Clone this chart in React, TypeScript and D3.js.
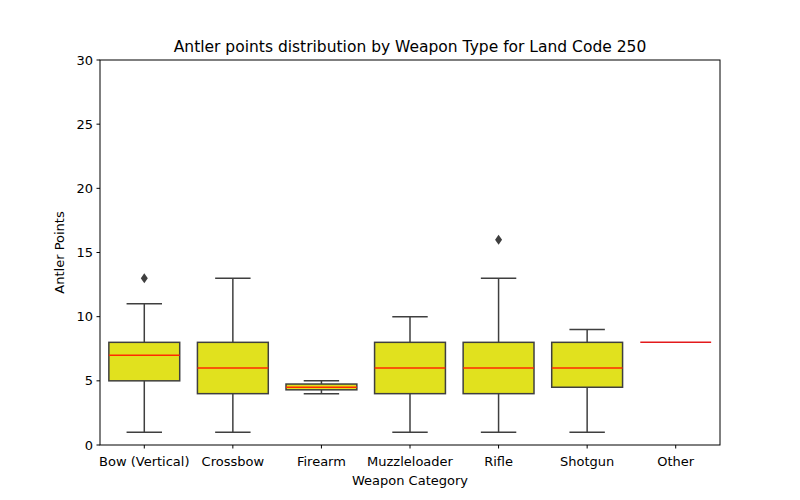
import React from "react";
import * as d3 from "d3";

const categories = ["Bow (Vertical)", "Crossbow", "Firearm", "Muzzleloader", "Rifle", "Shotgun", "Other"];
const whiskLow = [1, 1, 4, 1, 1, 1, 8];
const q1 = [5, 4, 4.3, 4, 4, 4.5, 8];
const medians = [7, 6, 4.5, 6, 6, 6, 8];
const q3 = [8, 8, 4.75, 8, 8, 8, 8];
const whiskHigh = [11, 13, 5, 10, 13, 9, 8];
const outliers: number[][] = [[13], [], [], [], [16], [], []];
const yTicks = [0, 5, 10, 15, 20, 25, 30];

export default function App() {
  const L = 100, R = 720, T = 60, B = 445;
  const x = d3.scaleBand<string>().domain(categories).range([L, R]);
  const y = d3.scaleLinear().domain([0, 30]).range([B, T]);
  const bw = x.bandwidth() * 0.8;
  const edge = "#3f3f3f";
  const font = "DejaVu Sans, sans-serif";
  return (
    <svg width={800} height={500} style={{ position: "absolute", left: 0, top: 0 }} fontFamily={font}>
      <rect width={800} height={500} fill="white" />
      {categories.map((c, i) => {
        const cx = x(c)! + x.bandwidth() / 2;
        if (q1[i] === q3[i] && whiskLow[i] === whiskHigh[i]) {
          return <line key={c} x1={cx - bw / 2} x2={cx + bw / 2} y1={y(medians[i])} y2={y(medians[i])} stroke="#e31a1c" strokeWidth={1.5} />;
        }
        return (
          <g key={c}>
            <line x1={cx} x2={cx} y1={y(whiskLow[i])} y2={y(q1[i])} stroke={edge} strokeWidth={1.5} />
            <line x1={cx} x2={cx} y1={y(whiskHigh[i])} y2={y(q3[i])} stroke={edge} strokeWidth={1.5} />
            <line x1={cx - bw / 4} x2={cx + bw / 4} y1={y(whiskLow[i])} y2={y(whiskLow[i])} stroke={edge} strokeWidth={1.5} />
            <line x1={cx - bw / 4} x2={cx + bw / 4} y1={y(whiskHigh[i])} y2={y(whiskHigh[i])} stroke={edge} strokeWidth={1.5} />
            <rect x={cx - bw / 2} y={y(q3[i])} width={bw} height={y(q1[i]) - y(q3[i])} fill="#e1e11e" stroke={edge} strokeWidth={1.5} />
            <line x1={cx - bw / 2} x2={cx + bw / 2} y1={y(medians[i])} y2={y(medians[i])} stroke="#ff2a00" strokeWidth={1.5} />
            {outliers[i].map((o, k) => (
              <path key={k} d={`M${cx},${y(o) - 5}L${cx + 3.5},${y(o)}L${cx},${y(o) + 5}L${cx - 3.5},${y(o)}Z`} fill={edge} />
            ))}
          </g>
        );
      })}
      <rect x={L} y={T} width={R - L} height={B - T} fill="none" stroke="black" strokeWidth={1} />
      {yTicks.map(t => (
        <g key={t}>
          <line x1={L - 3.5} x2={L} y1={y(t)} y2={y(t)} stroke="black" />
          <text x={L - 7} y={y(t)} dy="0.35em" textAnchor="end" fontSize={13}>{t}</text>
        </g>
      ))}
      {categories.map(c => {
        const cx = x(c)! + x.bandwidth() / 2;
        return (
          <g key={c}>
            <line x1={cx} x2={cx} y1={B} y2={B + 3.5} stroke="black" />
            <text x={cx} y={B + 21} textAnchor="middle" fontSize={13}>{c}</text>
          </g>
        );
      })}
      <text x={(L + R) / 2} y={485} textAnchor="middle" fontSize={13}>Weapon Category</text>
      <text transform={`translate(64,${(T + B) / 2}) rotate(-90)`} textAnchor="middle" fontSize={13}>Antler Points</text>
      <text x={(L + R) / 2} y={52} textAnchor="middle" fontSize={15.5}>Antler points distribution by Weapon Type for Land Code 250</text>
    </svg>
  );
}
